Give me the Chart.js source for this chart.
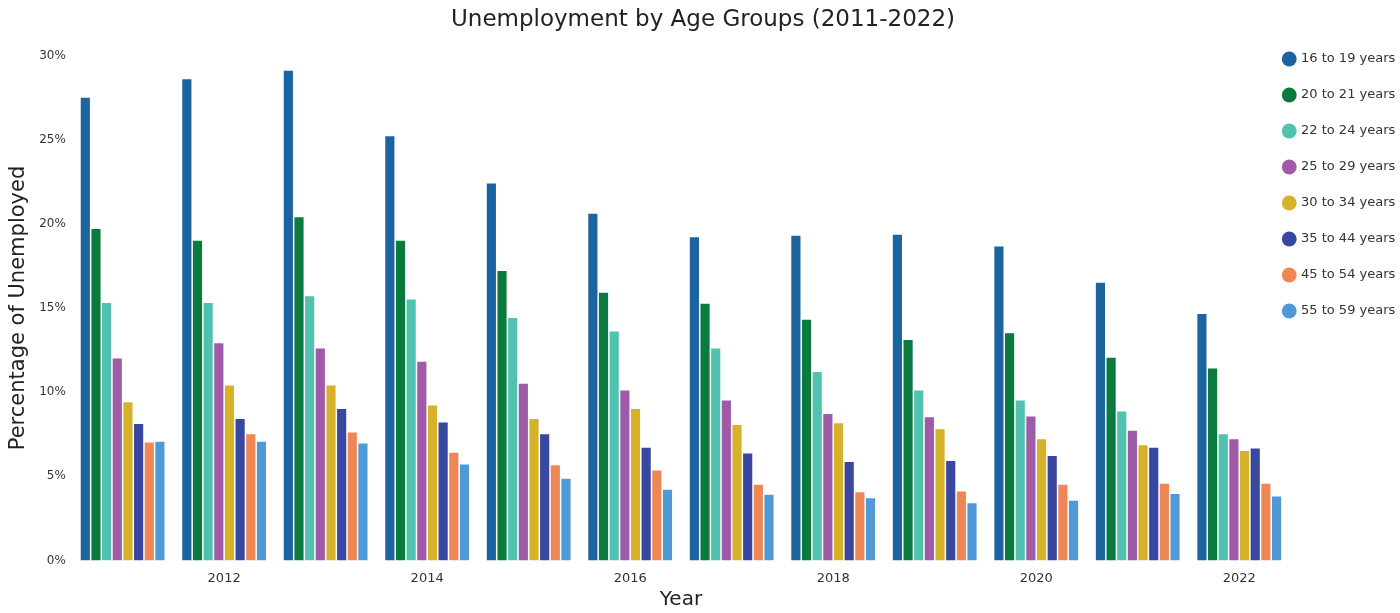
<!DOCTYPE html>
<html>
<head>
<meta charset="utf-8">
<title>Unemployment by Age Groups (2011-2022)</title>
<script src="https://cdn.jsdelivr.net/npm/chart.js@4.4.1/dist/chart.umd.min.js"></script>
<style>
    html, body { margin: 0; padding: 0; background: #ffffff; }
    #wrap { width: 1400px; height: 613px; position: relative; }
</style>
</head>
<body>
<div id="wrap"><canvas id="chart"></canvas></div>
<script>
(function () {
    "use strict";

    var years = ['2011', '2012', '2013', '2014', '2015', '2016', '2017', '2018', '2019', '2020', '2021', '2022'];
    var groups = ['16 to 19 years', '20 to 21 years', '22 to 24 years', '25 to 29 years',
                  '30 to 34 years', '35 to 44 years', '45 to 54 years', '55 to 59 years'];
    var colors = ['#1c64a0', '#0b7a3e', '#52c2b0', '#a05ba8', '#d6b12a', '#38479f', '#ee8755', '#4f9ad6'];

    // Percent unemployed, one array per age group, 2011..2022
    var age16to19 = [27.5, 28.6, 29.1, 25.2, 22.4, 20.6, 19.2, 19.3, 19.35, 18.65, 16.5, 14.65];
    var age20to21 = [19.7, 19.0, 20.4, 19.0, 17.2, 15.9, 15.25, 14.3, 13.1, 13.5, 12.05, 11.4];
    var age22to24 = [15.3, 15.3, 15.7, 15.5, 14.4, 13.6, 12.6, 11.2, 10.1, 9.5, 8.85, 7.5];
    var age25to29 = [12.0, 12.9, 12.6, 11.8, 10.5, 10.1, 9.5, 8.7, 8.5, 8.55, 7.7, 7.2];
    var age30to34 = [9.4, 10.4, 10.4, 9.2, 8.4, 9.0, 8.05, 8.15, 7.8, 7.2, 6.85, 6.5];
    var age35to44 = [8.1, 8.4, 9.0, 8.2, 7.5, 6.7, 6.35, 5.85, 5.9, 6.2, 6.7, 6.65];
    var age45to54 = [7.0, 7.5, 7.6, 6.4, 5.65, 5.35, 4.5, 4.05, 4.1, 4.5, 4.55, 4.55];
    var age55to59 = [7.05, 7.05, 6.95, 5.7, 4.85, 4.2, 3.9, 3.7, 3.4, 3.55, 3.95, 3.8];

    var series = [age16to19, age20to21, age22to24, age25to29, age30to34, age35to44, age45to54, age55to59];

    var font = "'DejaVu Sans', sans-serif";
    var datasets = groups.map(function (name, i) {
        return {
            label: name,
            data: series[i],
            backgroundColor: colors[i],
            borderWidth: 0,
            categoryPercentage: 0.84,
            barPercentage: 0.86
        };
    });

    // The legend keeps a narrow slot on the right but is drawn a bit further
    // left, over the empty space above the last bars (as in the original).
    var legendPlace = {
        id: 'legendPlace',
        afterLayout: function (chart) {
            var lg = chart.legend;
            if (!lg) return;
            lg.left = 1261;
            lg.right = chart.width;
            lg.width = lg.right - lg.left;
            lg.top = 29.5;
            lg.bottom = lg.top + lg.height;
        }
    };

    new Chart(document.getElementById('chart'), {
        type: 'bar',
        data: { labels: years, datasets: datasets },
        plugins: [legendPlace],
        options: {
            responsive: true,
            maintainAspectRatio: false,
            animation: false,
            layout: { padding: { left: 6, right: 0, top: 4, bottom: 1 } },
            scales: {
                x: {
                    grid: { display: false, drawTicks: false },
                    border: { display: false },
                    ticks: {
                        autoSkip: false,
                        maxRotation: 0,
                        padding: 10,
                        color: '#333',
                        font: { family: font, size: 13 },
                        callback: function (v, i) { return i % 2 === 1 ? years[i] : ''; }
                    },
                    title: { display: true, text: 'Year', color: '#222', font: { family: font, size: 20 }, padding: { top: -8, bottom: 0 } }
                },
                y: {
                    min: 0,
                    max: 30,
                    grid: { display: false, drawTicks: false },
                    border: { display: false },
                    ticks: {
                        stepSize: 5,
                        color: '#333',
                        font: { family: font, size: 12 },
                        padding: 6,
                        callback: function (v) { return v + '%'; }
                    },
                    title: { display: true, text: 'Percentage of Unemployed', color: '#222', font: { family: font, size: 21 }, padding: { top: 0, bottom: 2 } }
                }
            },
            plugins: {
                title: {
                    display: true,
                    text: 'Unemployment by Age Groups (2011-2022)',
                    color: '#222',
                    font: { family: font, size: 23, weight: 'normal' },
                    padding: { top: 2, bottom: 22 }
                },
                legend: {
                    position: 'right',
                    align: 'start',
                    maxWidth: 110,
                    labels: {
                        usePointStyle: true,
                        pointStyle: 'circle',
                        boxWidth: 10.5,
                        boxHeight: 10.5,
                        padding: 23,
                        color: '#333',
                        font: { family: font, size: 13 }
                    }
                },
                tooltip: { enabled: false }
            }
        }
    });
})();
</script>
</body>
</html>
